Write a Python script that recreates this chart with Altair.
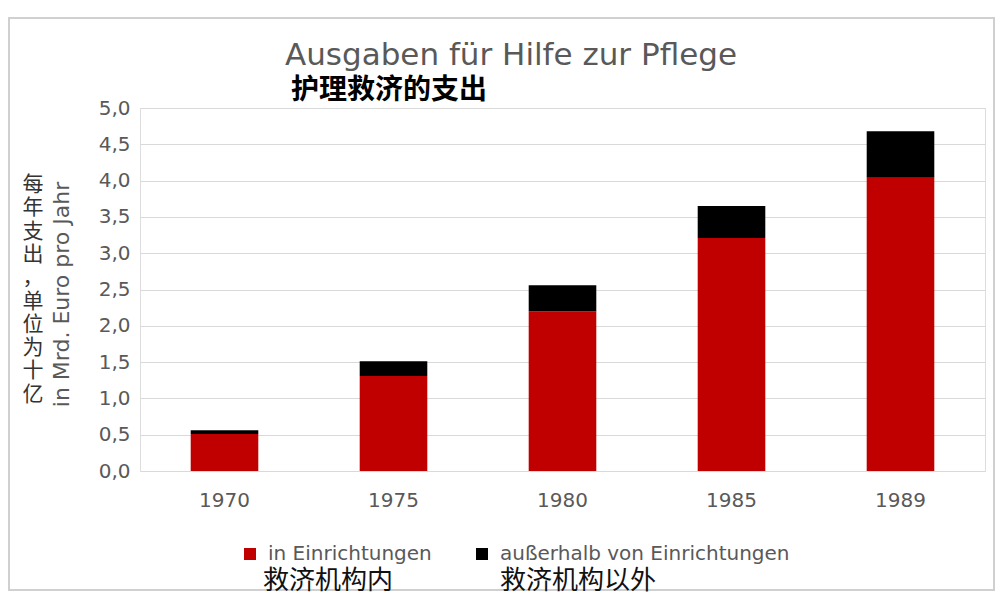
import altair as alt
import pandas as pd

years = ["1970", "1975", "1980", "1985", "1989"]
in_einrichtungen = [0.51, 1.31, 2.20, 3.21, 4.04]
ausserhalb = [0.05, 0.20, 0.36, 0.44, 0.64]
series = ["in Einrichtungen", "außerhalb von Einrichtungen"]
series_cn = ["救济机构内", "救济机构以外"]
colors = ["#C00000", "#000000"]
y_ticks = [0.0, 0.5, 1.0, 1.5, 2.0, 2.5, 3.0, 3.5, 4.0, 4.5, 5.0]
title_de = "Ausgaben für Hilfe zur Pflege"
title_cn = "护理救济的支出"
ytitle_de = "in Mrd. Euro pro Jahr"
ytitle_cn = "每年支出，单位为十亿"

rows = []
for i, y in enumerate(years):
    rows.append({"Jahr": y, "Serie": series[0], "Wert": in_einrichtungen[i], "ord": 0})
    rows.append({"Jahr": y, "Serie": series[1], "Wert": ausserhalb[i], "ord": 1})
df = pd.DataFrame(rows)

GRAY = "#595959"
FONT = "DejaVu Sans"
CJK = "Noto Sans CJK SC"

bars = alt.Chart(df).mark_bar().encode(
    x=alt.X("Jahr:N", sort=years,
            scale=alt.Scale(paddingInner=0.6, paddingOuter=0.3),
            axis=alt.Axis(title=None, labelAngle=0, ticks=False, domain=False,
                          labelPadding=19, labelFontSize=20, labelColor=GRAY,
                          labelFont=FONT, grid=False)),
    y=alt.Y("Wert:Q", stack="zero",
            scale=alt.Scale(domain=[0, 5], nice=False),
            axis=alt.Axis(values=y_ticks, title=ytitle_de,
                          titleFontSize=22, titleColor=GRAY, titleFont=FONT,
                          titleFontWeight="normal", titleAngle=-90,
                          titleX=-79, titleY=186, titleBaseline="middle",
                          titleAlign="center",
                          labelExpr="replace(format(datum.value, '.1f'), '.', ',')",
                          labelFontSize=20, labelColor=GRAY, labelFont=FONT,
                          labelPadding=10, ticks=False, domain=False,
                          grid=True, gridColor="#d9d9d9", gridWidth=1.2)),
    color=alt.Color("Serie:N", scale=alt.Scale(domain=series, range=colors),
                    legend=alt.Legend(title=None, orient="none", legendX=100, legendY=436,
                                      direction="horizontal", symbolType="square",
                                      symbolSize=144, symbolStrokeWidth=0,
                                      labelFontSize=20, labelColor=GRAY, labelFont=FONT,
                                      labelOffset=8, columnPadding=40, labelLimit=500)),
    order=alt.Order("ord:Q", sort="ascending"),
)

one = pd.DataFrame({"t": [0]})

t_de = alt.Chart(one).mark_text(
    align="center", baseline="alphabetic", fontSize=31, font=FONT, color=GRAY,
).encode(x=alt.value(371), y=alt.value(-43), text=alt.value(title_de))

t_cn = alt.Chart(one).mark_text(
    align="left", baseline="middle", fontSize=28, font=CJK, color="#000000",
    fontWeight="bold",
).encode(x=alt.value(151), y=alt.value(-17), text=alt.value(title_cn))

cn_axis = alt.Chart(one).mark_text(
    align="center", baseline="top", fontSize=21, font=CJK, color="#333333",
    lineHeight=23.3,
).encode(
    x=alt.value(-107), y=alt.value(66),
    text=alt.value(list(ytitle_cn)),
)

cn_leg1 = alt.Chart(one).mark_text(
    align="left", baseline="middle", fontSize=26, font=CJK, color="#111111",
).encode(x=alt.value(123), y=alt.value(473), text=alt.value(series_cn[0]))

cn_leg2 = alt.Chart(one).mark_text(
    align="left", baseline="middle", fontSize=26, font=CJK, color="#111111",
).encode(x=alt.value(360), y=alt.value(473), text=alt.value(series_cn[1]))

border = alt.Chart(one).mark_rect(
    fill=None, stroke="#d0d0d0", strokeWidth=2,
).encode(x=alt.value(-131), x2=alt.value(854), y=alt.value(-90), y2=alt.value(482))

chart = alt.layer(border, bars, t_de, t_cn, cn_axis, cn_leg1, cn_leg2).properties(
    width=845, height=363,
    autosize=alt.AutoSizeParams(type="none"),
    padding={"left": 132, "top": 100, "right": 11, "bottom": 126},
).configure_view(stroke=None).configure(background="white")

chart.save("out.html", embed_options={"renderer": "svg", "actions": False})
